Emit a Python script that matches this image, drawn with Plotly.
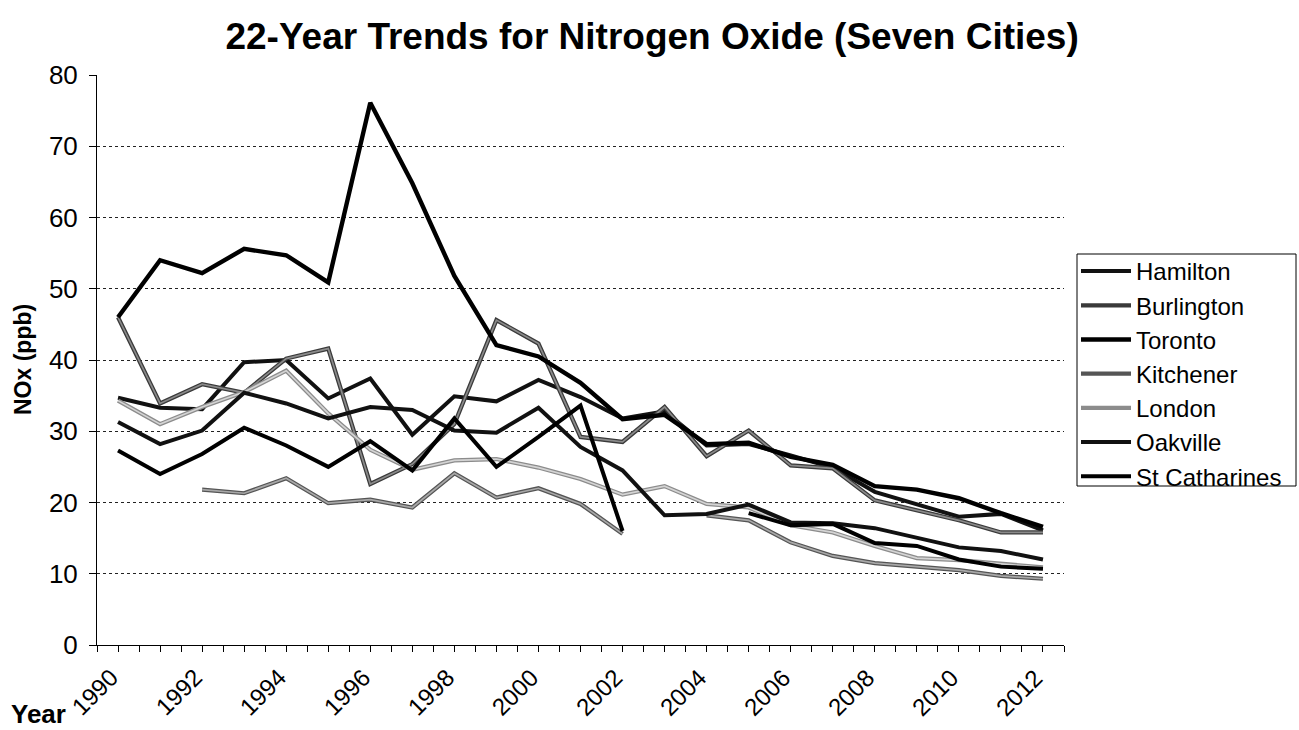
import plotly.graph_objects as go

# Annual mean NOx (ppb), 1990-2012
years = list(range(1990, 2013))
label_years = list(range(1990, 2013, 2))

hamilton = [34.7, 33.3, 33.1, 39.7, 40.0, 34.6, 37.4, 29.5, 34.9, 34.2, 37.2, 34.8,
            31.8, 32.8, 28.0, 28.2, 26.6, 24.9, 21.5, 19.7, 18.0, 18.4, 16.1]
burlington = [46.0, 33.9, 36.6, 35.4, 40.2, 41.6, 22.6, 25.4, 31.0, 45.6, 42.3, 29.2,
              28.5, 33.4, 26.5, 30.1, 25.2, 24.8, 20.3, 18.9, 17.5, 15.8, 15.8]
toronto = [46.0, 54.0, 52.2, 55.6, 54.7, 50.9, 76.1, 64.8, 51.8, 42.1, 40.5, 36.8,
           31.7, 32.3, 28.2, 28.4, 26.4, 25.3, 22.3, 21.8, 20.6, 18.5, 16.6]
kitchener = [None, None, 21.8, 21.3, 23.4, 19.9, 20.4, 19.3, 24.1, 20.7, 22.0, 19.8,
             15.6, None, 18.2, 17.5, 14.4, 12.5, 11.5, 11.0, 10.5, 9.7, 9.3]
london = [34.3, 31.0, 33.4, 35.5, 38.5, 32.5, 27.4, 24.6, 25.9, 26.1, 24.9, 23.3,
          21.1, 22.3, 19.8, 19.3, 16.8, 15.8, 13.9, 12.2, 11.9, 11.4, 10.9]
oakville = [31.3, 28.2, 30.1, 35.4, 33.9, 31.8, 33.4, 33.0, 30.1, 29.8, 33.3, 27.8,
            24.5, 18.2, 18.4, 19.7, 17.2, 17.1, 16.4, 15.1, 13.7, 13.2, 12.0]
st_catharines = [27.3, 24.0, 26.8, 30.5, 28.0, 25.0, 28.6, 24.5, 31.8, 25.0, 29.2, 33.6,
                 16.0, None, None, 18.5, 16.8, 17.0, 14.3, 13.9, 12.0, 11.0, 10.7]

series_names = ["Hamilton", "Burlington", "Toronto", "Kitchener", "London",
                "Oakville", "St Catharines"]
series_values = [hamilton, burlington, toronto, kitchener, london, oakville, st_catharines]
# outer stroke colour, inner core colour (None = solid line)
outer_colors = ["#111111", "#3a3a3a", "#000000", "#555555", "#8c8c8c", "#111111", "#000000"]
core_colors = [None, "#8a8a8a", None, "#a8a8a8", "#d4d4d4", None, None]
line_widths = [4.0, 4.2, 4.4, 4.2, 4.2, 4.0, 4.0]

FONT = "Liberation Sans, Arial, sans-serif"

fig = go.Figure()
for name, vals, oc, cc, w in zip(series_names, series_values, outer_colors,
                                 core_colors, line_widths):
    fig.add_trace(go.Scatter(
        x=years, y=vals, name=name, mode="lines", connectgaps=False,
        legendgroup=name, line=dict(color=oc, width=w),
    ))
    if cc is not None:
        fig.add_trace(go.Scatter(
            x=years, y=vals, name=name, mode="lines", connectgaps=False,
            legendgroup=name, showlegend=False, hoverinfo="skip",
            line=dict(color=cc, width=w * 0.4),
        ))

# tick marks at every half year (cell edges and centres)
tick_vals = [1989.5 + 0.5 * i for i in range(47)]

# plot area in pixels
plot_l, plot_r, plot_t, plot_b = 97, 1064, 75, 645
pw, ph = plot_r - plot_l, plot_b - plot_t
box = dict(x0=(1077 - plot_l) / pw, x1=(1296 - plot_l) / pw,
           y0=(plot_b - 486) / ph, y1=(plot_b - 254) / ph)

fig.update_layout(
    width=1299, height=730,
    margin=dict(l=plot_l, r=1299 - plot_r, t=plot_t, b=730 - plot_b, autoexpand=False),
    paper_bgcolor="white", plot_bgcolor="white",
    font=dict(family=FONT, size=24, color="black"),
    title=dict(text="<b>22-Year Trends for Nitrogen Oxide (Seven Cities)</b>",
               x=0.502, xanchor="center", y=1 - 36 / 730, yanchor="middle",
               font=dict(family=FONT, size=37, color="black")),
    legend=dict(x=(1076 - plot_l) / pw, y=(plot_b - 249) / ph, xanchor="left", yanchor="top",
                borderwidth=0, bgcolor="rgba(0,0,0,0)",
                font=dict(family=FONT, size=24, color="black"),
                itemwidth=50, tracegroupgap=0),
    showlegend=True,
    shapes=[dict(type="rect", xref="paper", yref="paper", **box,
                 line=dict(color="black", width=1), fillcolor="rgba(0,0,0,0)",
                 layer="above")],
)

fig.update_xaxes(
    range=[1989.5, 2012.5], tickmode="array", tickvals=tick_vals,
    ticktext=[""] * len(tick_vals),
    ticks="outside", ticklen=6, tickcolor="black", tickwidth=1,
    showline=True, linecolor="black", linewidth=1, showgrid=False, zeroline=False,
    automargin=False,
)
fig.update_yaxes(
    range=[0, 80], dtick=10, tick0=0, ticks="outside", ticklen=7, tickcolor="black",
    showline=True, linecolor="black", linewidth=1, zeroline=False,
    showgrid=True, gridcolor="#222222", gridwidth=1, griddash="3px,3px",
    tickfont=dict(family=FONT, size=26, color="black"), ticklabelstandoff=6,
    automargin=False,
)

# slanted year labels under the axis, ending at their tick
for yr in label_years:
    fig.add_annotation(text=str(yr), x=yr, y=0, xref="x", yref="y",
                       xanchor="center", yanchor="middle", textangle=-45,
                       xshift=-24, yshift=-47, showarrow=False,
                       font=dict(family=FONT, size=24, color="black"))

fig.add_annotation(text="<b>NOx (ppb)</b>", textangle=-90, xref="paper", yref="paper",
                   x=(23 - plot_l) / pw, y=0.5, xanchor="center", yanchor="middle",
                   showarrow=False, font=dict(family=FONT, size=23, color="black"))
fig.add_annotation(text="<b>Year</b>", xref="paper", yref="paper",
                   x=(38 - plot_l) / pw, y=(plot_b - 714) / ph, xanchor="center",
                   yanchor="middle", showarrow=False,
                   font=dict(family=FONT, size=26, color="black"))

fig.write_html("out.html")
